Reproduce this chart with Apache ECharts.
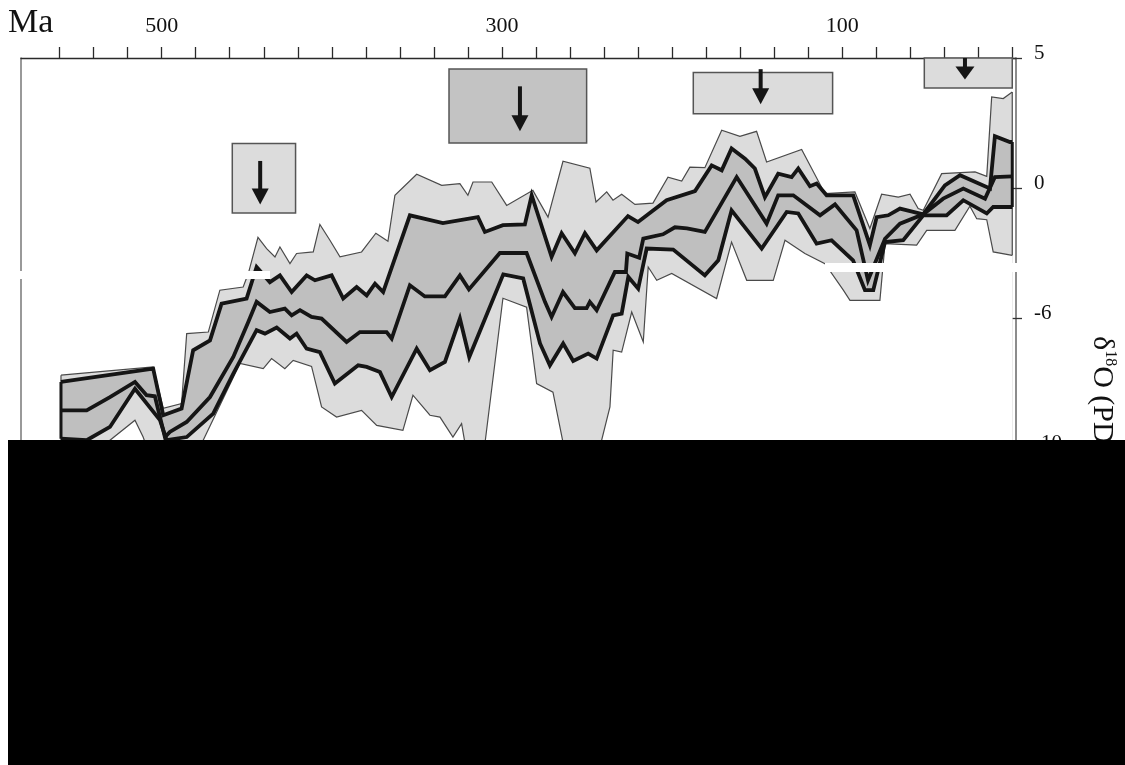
<!DOCTYPE html>
<html>
<head>
<meta charset="utf-8">
<script src="https://cdn.jsdelivr.net/npm/echarts@6/dist/echarts.min.js"></script>
<style>
  html, body { margin: 0; padding: 0; background: #fff; }
  #chart { width: 1125px; height: 765px; }
</style>
</head>
<body>
<div id="chart"></div>
<script>
// Phanerozoic δ18O envelope: [age in Ma, δ18O position on the right-hand scale]
const outerUpper = [[559.2,-7.20],[505.0,-6.88],[499.1,-8.47],[488.3,-8.29],[485.3,-5.60],[472.6,-5.54],[465.8,-3.93],[452.1,-3.81],[449.1,-3.29],[443.4,-1.90],[438.3,-2.33],[433.4,-2.65],[430.5,-2.27],[424.6,-2.91],[420.7,-2.52],[410.9,-2.46],[407.0,-1.40],[401.1,-2.01],[395.2,-2.65],[382.5,-2.46],[374.1,-1.74],[367.0,-2.05],[362.9,-0.28],[350.1,0.53],[335.4,0.10],[324.7,0.17],[320.0,-0.28],[317.0,0.23],[306.0,0.23],[297.2,-0.67],[281.8,-0.09],[272.9,-1.12],[264.1,1.03],[248.3,0.76],[244.7,-0.54],[238.4,-0.15],[234.7,-0.47],[229.6,-0.24],[221.8,-0.63],[211.2,-0.58],[202.4,0.42],[194.3,0.27],[189.5,0.80],[180.7,0.78],[170.8,2.22],[160.1,1.99],[150.3,2.18],[144.4,1.00],[123.8,1.48],[110.1,-0.22],[92.5,-0.15],[83.7,-1.56],[76.8,-0.24],[67.0,-0.35],[60.1,-0.24],[55.3,-0.79],[52.3,-0.86],[41.5,0.55],[21.9,0.62],[15.0,0.45],[12.1,3.50],[5.3,3.44],[0,3.69]];

const innerUpper = [[559.2,-7.46],[505.0,-6.95],[499.1,-8.74],[488.3,-8.48],[481.5,-6.24],[471.6,-5.86],[464.8,-4.45],[450.1,-4.25],[444.2,-3.04],[436.4,-3.62],[430.5,-3.36],[423.6,-4.00],[414.8,-3.36],[409.9,-3.55],[400.1,-3.36],[393.3,-4.25],[385.4,-3.81],[379.5,-4.13],[374.6,-3.68],[369.8,-4.00],[354.1,-1.05],[334.7,-1.35],[314.1,-1.12],[310.0,-1.69],[299.4,-1.43],[286.5,-1.40],[282.5,-0.28],[270.8,-2.65],[264.9,-1.74],[257.1,-2.51],[251.2,-1.74],[244.3,-2.40],[225.9,-1.08],[220.0,-1.31],[203.2,-0.47],[186.5,-0.12],[176.7,0.87],[170.8,0.68],[165.0,1.52],[157.1,1.13],[151.3,0.75],[145.4,-0.35],[137.6,0.55],[129.7,0.42],[125.8,0.75],[118.9,0.07],[115.0,0.17],[109.1,-0.28],[93.5,-0.28],[83.7,-2.20],[79.7,-1.12],[72.9,-1.05],[66.0,-0.79],[52.3,-1.01],[39.6,0.10],[30.7,0.49],[13.1,-0.02],[10.2,1.99],[1.4,1.77],[0,1.77]];

const meanLine = [[559.2,-8.55],[544.1,-8.55],[530.4,-8.04],[515.7,-7.46],[508.9,-7.97],[504.0,-8.01],[498.1,-9.58],[495.2,-9.38],[485.3,-9.00],[471.6,-8.04],[457.9,-6.50],[449.1,-5.15],[444.2,-4.38],[436.4,-4.77],[427.6,-4.64],[423.6,-4.90],[418.7,-4.70],[411.9,-4.96],[406.0,-5.02],[391.3,-5.92],[383.5,-5.54],[367.8,-5.54],[364.8,-5.79],[354.1,-3.74],[345.3,-4.17],[333.5,-4.17],[324.7,-3.36],[319.4,-3.90],[301.2,-2.50],[285.5,-2.50],[274.7,-4.38],[270.8,-4.96],[264.1,-4.00],[257.1,-4.62],[250.2,-4.62],[248.3,-4.38],[244.3,-4.70],[233.6,-3.23],[227.1,-3.23],[226.3,-2.52],[219.3,-2.68],[216.9,-1.95],[205.3,-1.78],[198.3,-1.51],[191.2,-1.55],[180.7,-1.69],[162.0,0.42],[144.4,-1.37],[137.6,-0.28],[128.7,-0.28],[113.0,-1.05],[104.2,-0.63],[91.5,-1.63],[84.8,-3.55],[74.8,-1.95],[66.0,-1.37],[52.3,-1.01],[40.6,-0.41],[28.8,-0.02],[16.0,-0.41],[10.2,0.42],[0,0.45]];

const innerLower = [[559.2,-9.64],[544.1,-9.70],[530.4,-9.19],[515.7,-7.72],[501.0,-8.93],[497.1,-9.70],[485.3,-9.58],[469.7,-8.68],[457.9,-7.14],[444.2,-5.47],[439.3,-5.60],[432.4,-5.37],[424.6,-5.79],[420.7,-5.60],[414.8,-6.18],[407.0,-6.31],[398.2,-7.52],[384.5,-6.82],[379.5,-6.88],[371.7,-7.08],[364.8,-8.04],[350.1,-6.18],[342.3,-7.01],[333.5,-6.69],[324.7,-5.02],[319.2,-6.50],[299.2,-3.32],[287.5,-3.48],[277.6,-5.98],[271.8,-6.82],[264.0,-5.98],[258.1,-6.65],[249.3,-6.37],[244.3,-6.56],[234.6,-4.90],[229.6,-4.83],[225.7,-3.42],[219.9,-3.87],[214.9,-2.33],[199.3,-2.37],[180.7,-3.36],[172.8,-2.78],[165.0,-0.86],[147.3,-2.33],[132.6,-0.92],[125.8,-0.98],[115.0,-2.14],[106.2,-2.01],[93.6,-2.78],[86.6,-3.93],[81.7,-3.93],[74.8,-2.08],[64.1,-2.01],[52.3,-1.05],[38.6,-1.05],[28.8,-0.47],[15.0,-0.98],[11.2,-0.73],[0,-0.73]];

const outerLower = [[559.2,-10.86],[544.1,-10.86],[530.4,-9.70],[515.7,-8.93],[510.9,-9.58],[504.0,-10.86],[497.5,-11.24],[485.3,-10.86],[475.6,-9.70],[454.0,-6.75],[440.3,-6.95],[435.4,-6.56],[427.6,-6.95],[422.7,-6.63],[411.9,-6.86],[406.0,-8.42],[397.2,-8.81],[382.5,-8.55],[373.6,-9.13],[358.2,-9.32],[352.3,-7.97],[342.3,-8.74],[336.4,-8.81],[328.8,-9.58],[323.7,-9.06],[320.0,-10.47],[311.2,-10.47],[299.4,-4.24],[285.5,-4.58],[279.6,-7.52],[270.0,-7.85],[262.0,-10.47],[244.3,-10.47],[236.5,-8.42],[234.6,-6.24],[229.6,-6.31],[223.7,-4.77],[216.9,-5.92],[214.0,-3.04],[209.0,-3.55],[200.2,-3.29],[173.8,-4.25],[165.0,-2.08],[156.1,-3.55],[140.5,-3.55],[133.6,-2.01],[121.9,-2.52],[110.1,-2.91],[99.3,-3.93],[95.4,-4.32],[77.8,-4.32],[74.8,-2.14],[56.2,-2.20],[50.3,-1.63],[33.7,-1.63],[24.9,-0.70],[20.9,-1.18],[15.0,-1.22],[11.2,-2.46],[0,-2.59]];

// Cold-interval boxes with their downward arrows
const boxOldAge   = [458.5, 331.1, 187.5, 51.7];
const boxYoungAge = [421.3, 250.2, 105.6, 0];
const boxTop      = [1.71, 4.58, 4.44, 5.0];
const boxBottom   = [-0.96, 1.73, 2.86, 3.85];
const arrowAge    = [442.1, 289.4, 147.9, 27.8];
const arrowTop    = [1.04, 3.91, 4.57, 5.0];
const arrowTip    = [-0.63, 2.18, 3.22, 4.17];

// Axis ticks and labels
const xTickValues  = [0,20,40,60,80,100,120,140,160,180,200,220,240,260,280,300,320,340,360,380,400,420,440,460,480,500,520,540,560];
const xLabelValues = [500, 300, 100];
const yTickValues  = [5, 0, -5, -10];
const yTickLabels  = ['5', '0', '-6', '-10'];

// Styling
const SERIF = "'Liberation Serif', 'DejaVu Serif', serif";
const LIGHT = '#dcdcdc';
const DARK = '#bfbfbf';
const INK = '#151515';
const OUTLINE = '#4a4a4a';
const boxFill = ['#dcdcdc', '#c3c3c3', '#dcdcdc', '#dcdcdc'];
const headW = [17, 17, 17, 19];
const headH = [16, 16, 16, 13];

const chart = echarts.init(document.getElementById('chart'), null, { renderer: 'canvas' });

function fillSeries(data, color) {
  return {
    type: 'line', data: data, symbol: 'none', silent: true, z: 1,
    lineStyle: { opacity: 0 },
    areaStyle: { color: color, opacity: 1, origin: 'start' }
  };
}
function lineSeries(data, color, width, z) {
  return {
    type: 'line', data: data, symbol: 'none', silent: true, z: z,
    lineStyle: { color: color, width: width, join: 'miter', cap: 'butt' }
  };
}
const first = a => a[0];
const last = a => a[a.length - 1];

const boxData = boxOldAge.map((a, i) => [a, boxYoungAge[i], boxTop[i], boxBottom[i], arrowAge[i], arrowTop[i], arrowTip[i]]);

const option = {
  animation: false,
  backgroundColor: '#ffffff',
  grid: { left: 21, right: 109, top: 58, bottom: 57 },
  xAxis: {
    type: 'value', position: 'top', inverse: true, min: -2.2, max: 582.7,
    axisLine: { show: true, onZero: false, lineStyle: { color: '#2a2a2a', width: 1.3 } },
    axisTick: { show: true, length: 11, customValues: xTickValues, lineStyle: { color: '#2a2a2a', width: 1.3 } },
    axisLabel: { customValues: xLabelValues, fontFamily: SERIF, fontSize: 22, color: '#111', margin: 21 },
    splitLine: { show: false }
  },
  yAxis: [
    {
      type: 'value', position: 'right', min: -20, max: 5,
      axisLine: { show: true, onZero: false, lineStyle: { color: '#666', width: 1.5 } },
      axisTick: { show: true, length: 6, customValues: yTickValues, lineStyle: { color: '#333', width: 1.3 } },
      axisLabel: {
        customValues: yTickValues, fontFamily: SERIF, fontSize: 21, color: '#111', margin: 18,
        verticalAlign: 'bottom', lineHeight: 10,
        formatter: v => { const i = yTickValues.indexOf(v); return i >= 0 ? yTickLabels[i] : ''; }
      },
      splitLine: { show: false }
    },
    {
      type: 'value', position: 'right', min: -20, max: 5,
      axisLine: { show: false, onZero: false },
      axisTick: { show: true, inside: true, length: 5, customValues: yTickValues, lineStyle: { color: '#333', width: 1.3 } },
      axisLabel: { show: false },
      splitLine: { show: false }
    },
    {
      type: 'value', position: 'left', min: -20, max: 5,
      axisLine: { show: true, onZero: false, lineStyle: { color: '#777', width: 1.5 } },
      axisTick: { show: false }, axisLabel: { show: false }, splitLine: { show: false }
    }
  ],
  series: [
    fillSeries(outerUpper, LIGHT),
    fillSeries(innerUpper, DARK),
    fillSeries(innerLower, LIGHT),
    fillSeries(outerLower, '#ffffff'),
    lineSeries(outerUpper, OUTLINE, 1.2, 3),
    lineSeries(outerLower, OUTLINE, 1.2, 3),
    // closing edges of the envelope at both ends of the record
    lineSeries([first(outerUpper), first(outerLower)], OUTLINE, 1.2, 3),
    lineSeries([last(outerUpper), last(outerLower)], OUTLINE, 1.2, 3),
    lineSeries([first(innerUpper), first(innerLower)], INK, 3, 4),
    lineSeries([last(innerUpper), last(innerLower)], INK, 3, 4),
    lineSeries(innerUpper, INK, 3.8, 4),
    lineSeries(innerLower, INK, 3.8, 4),
    lineSeries(meanLine, INK, 3.8, 4),
    {
      type: 'custom', silent: true, z: 5, data: boxData,
      renderItem: function (params, api) {
        const i = params.dataIndex;
        const p0 = api.coord([api.value(0), api.value(2)]);
        const p1 = api.coord([api.value(1), api.value(3)]);
        const a0 = api.coord([api.value(4), api.value(5)]);
        const a1 = api.coord([api.value(4), api.value(6)]);
        const hw = headW[i], hh = headH[i];
        return {
          type: 'group',
          children: [
            { type: 'rect',
              shape: { x: Math.min(p0[0], p1[0]), y: Math.min(p0[1], p1[1]), width: Math.abs(p1[0] - p0[0]), height: Math.abs(p1[1] - p0[1]) },
              style: { fill: boxFill[i], stroke: '#555', lineWidth: 1.5 } },
            { type: 'line',
              shape: { x1: a0[0], y1: a0[1], x2: a1[0], y2: a1[1] - hh + 1 },
              style: { stroke: INK, lineWidth: 4 } },
            { type: 'polygon',
              shape: { points: [[a1[0] - hw / 2, a1[1] - hh], [a1[0] + hw / 2, a1[1] - hh], [a1[0], a1[1]]] },
              style: { fill: INK } }
          ]
        };
      }
    }
  ],
  graphic: [
    { type: 'text', x: 8, y: 23, z: 50,
      style: { text: 'Ma', font: "34px " + SERIF, fill: '#111', align: 'left', verticalAlign: 'middle' } },
    { type: 'text', x: 1102, y: 336, rotation: -Math.PI / 2, z: 50,
      style: {
        text: '{a|δ}{s|18}{a|O (PDB)}', align: 'left', verticalAlign: 'middle',
        rich: {
          a: { fontFamily: SERIF, fontSize: 30, fill: '#111', lineHeight: 32 },
          s: { fontFamily: SERIF, fontSize: 16, fill: '#111', verticalAlign: 'top', lineHeight: 32 }
        }
      } },
    { type: 'rect', z: 60, shape: { x: 19, y: 271, width: 251, height: 8 }, style: { fill: '#ffffff' } },
    { type: 'rect', z: 60, shape: { x: 825, y: 263, width: 193, height: 9 }, style: { fill: '#ffffff' } },
    { type: 'rect', z: 100, shape: { x: 8, y: 440, width: 1117, height: 325 }, style: { fill: '#000000' } }
  ]
};

chart.setOption(option);
</script>
</body>
</html>
